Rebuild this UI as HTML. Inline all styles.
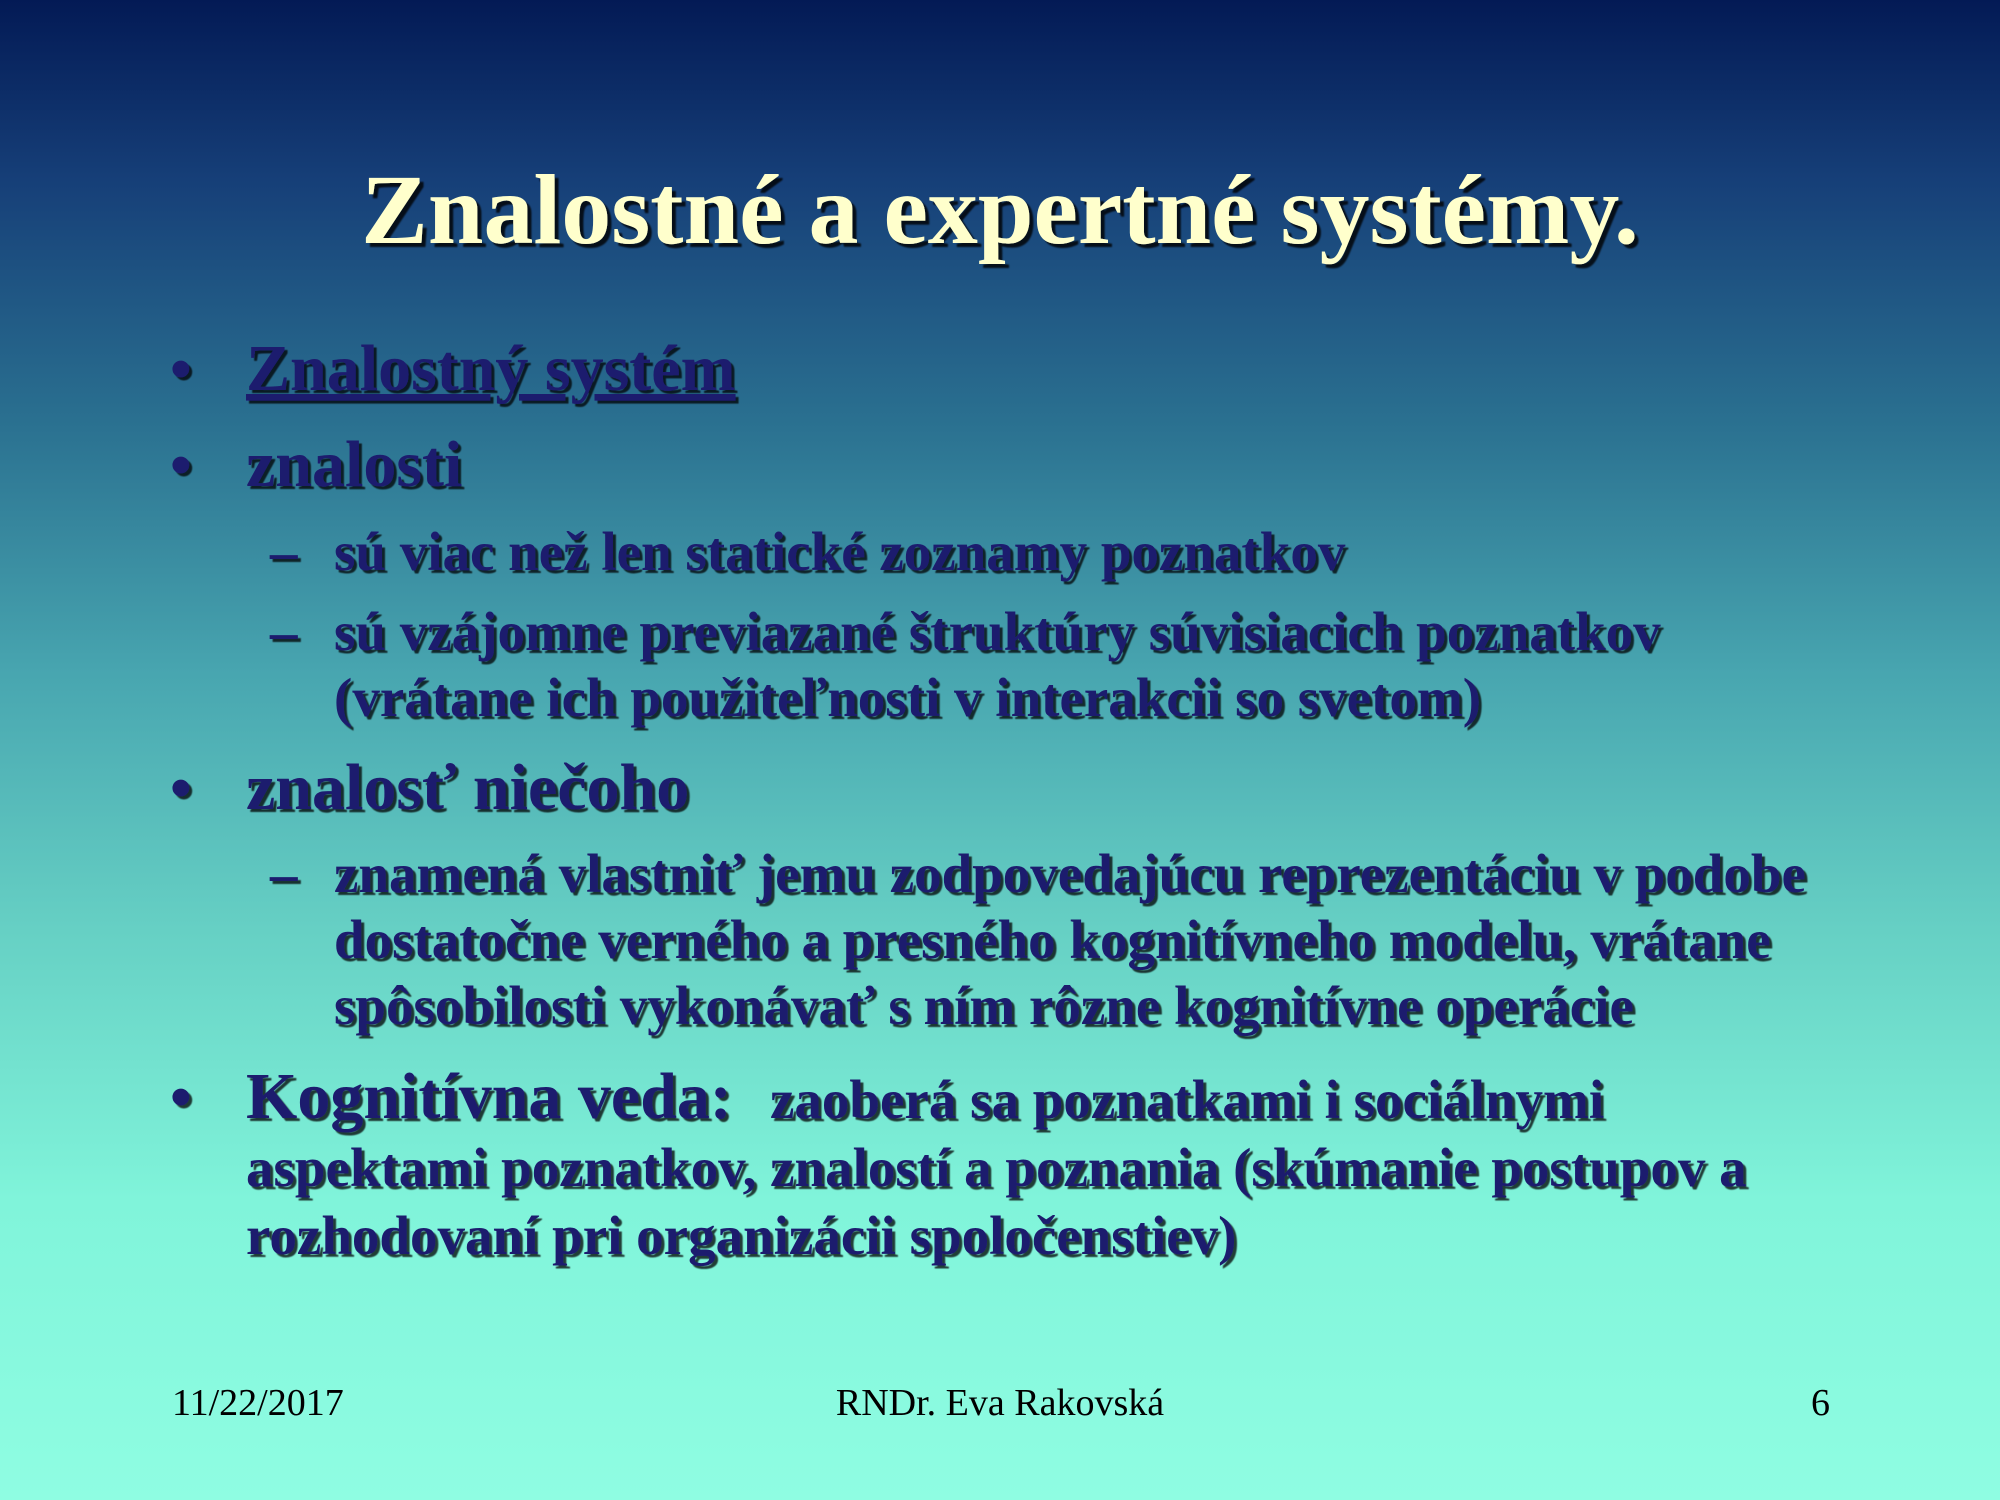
<!DOCTYPE html>
<html><head><meta charset="utf-8"><style>
html,body{margin:0;padding:0}
body{width:2000px;height:1500px;overflow:hidden;background:linear-gradient(180deg,#031a55 0%,#163f78 12%,#2a7090 28%,#48a6b0 45%,#66d0c4 62%,#80f4da 80%,#8ffde2 100%)}
svg{display:block}
svg text{font-family:"Liberation Serif",serif}
.t{fill:#1e1a6e;font-weight:bold;filter:url(#sh)}
.ti{fill:#ffffcc;font-weight:bold;filter:url(#sh2)}
.f{fill:#000;font-size:38px}
</style></head><body>
<svg width="2000" height="1500">
<defs>
<filter id="sh" x="-5%" y="-20%" width="110%" height="140%"><feDropShadow dx="3" dy="3" stdDeviation="0.6" flood-color="#000" flood-opacity="0.75"/></filter>
<filter id="sh2" x="-5%" y="-20%" width="110%" height="140%"><feDropShadow dx="4" dy="4" stdDeviation="0.8" flood-color="#000" flood-opacity="0.8"/></filter>
</defs>
<text class="ti" x="1000" y="243" text-anchor="middle" font-size="100">Znalostné a expertné systémy.</text>

<g class="t">
<text x="170" y="390" font-size="62">•</text>
<text x="246" y="390" font-size="66" text-decoration="underline">Znalostný systém</text>
<text x="170" y="486" font-size="62">•</text>
<text x="246" y="486" font-size="66">znalosti</text>
<text x="270" y="570" font-size="55">–</text>
<text x="334" y="570" font-size="55">sú viac než len statické zoznamy poznatkov</text>
<text x="270" y="650" font-size="55">–</text>
<text x="334" y="650" font-size="55">sú vzájomne previazané štruktúry súvisiacich poznatkov</text>
<text x="334" y="716" font-size="55">(vrátane ich použiteľnosti v interakcii so svetom)</text>
<text x="170" y="809" font-size="62">•</text>
<text x="246" y="809" font-size="66">znalosť niečoho</text>
<text x="270" y="892" font-size="55">–</text>
<text x="334" y="892" font-size="55">znamená vlastniť jemu zodpovedajúcu reprezentáciu v podobe</text>
<text x="334" y="958" font-size="55">dostatočne verného a presného kognitívneho modelu, vrátane</text>
<text x="334" y="1024" font-size="55">spôsobilosti vykonávať s ním rôzne kognitívne operácie</text>
<text x="170" y="1118" font-size="62">•</text>
<text x="246" y="1118" font-size="66">Kognitívna veda:</text>
<text x="770" y="1118" font-size="55">zaoberá sa poznatkami i sociálnymi</text>
<text x="246" y="1186" font-size="55">aspektami poznatkov, znalostí a poznania (skúmanie postupov a</text>
<text x="246" y="1254" font-size="55">rozhodovaní pri organizácii spoločenstiev)</text>
</g>

<text class="f" x="172" y="1415">11/22/2017</text>
<text class="f" x="1000" y="1415" text-anchor="middle">RNDr. Eva Rakovská</text>
<text class="f" x="1830" y="1415" text-anchor="end">6</text>
</svg>
</body></html>
